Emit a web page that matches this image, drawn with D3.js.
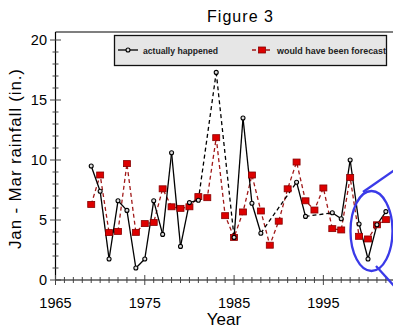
<!DOCTYPE html>
<html><head><meta charset="utf-8">
<script src="https://cdn.jsdelivr.net/npm/d3@7"></script>
<style>html,body{margin:0;padding:0;background:#fff;}svg{display:block;}</style>
</head><body>
<script>
const years = d3.range(1969, 2003);
const actual = [9.5, 7.4, 1.75, 6.6, 5.8, 1.0, 1.75, 6.6, 3.8, 10.6, 2.8, 6.45, 6.65, null, 17.3, null, 3.55, 13.5, 6.4, 3.9, null, null, null, 8.15, 5.3, null, null, 5.6, 5.1, 10.0, 4.67, 1.75, 4.6, 5.7];
const forecast = [6.3, 8.75, 3.95, 4.05, 9.7, 3.97, 4.7, 4.8, 7.6, 6.1, 5.97, 6.1, 6.95, 6.86, 11.86, 5.36, 3.55, 5.67, 8.75, 5.75, 2.9, 4.9, 7.6, 9.83, 6.6, 5.83, 7.67, 4.28, 4.17, 8.55, 3.64, 3.42, 4.6, 5.03];
const xTickLabels = [1965, 1975, 1985, 1995];
const yTickLabels = [0, 5, 10, 15, 20];
const legendLabels = ["actually happened", "would have been forecast"];

const W = 393, H = 331;
const svg = d3.select("body").append("svg").attr("width", W).attr("height", H);
const font = "Liberation Sans, Arial, sans-serif";

const x = d3.scaleLinear().domain([1965, 2003]).range([55.5, 394.8]);
const y = d3.scaleLinear().domain([0, 20]).range([280, 40]);
const frameTop = 32;

// title
svg.append("text").attr("x", 240).attr("y", 22).attr("text-anchor", "middle")
  .attr("font-family", font).attr("font-size", 16).attr("textLength", 66).attr("lengthAdjust", "spacing")
  .text("Figure 3");

// frame top
svg.append("line").attr("x1", x(1965)).attr("x2", W).attr("y1", frameTop).attr("y2", frameTop).attr("stroke", "#000").attr("stroke-width", 1.2);

// axes lines
svg.append("line").attr("x1", x(1965)).attr("x2", x(1965)).attr("y1", frameTop).attr("y2", y(0)).attr("stroke", "#000").attr("stroke-width", 1.2);
svg.append("line").attr("x1", x(1965)).attr("x2", W).attr("y1", y(0)).attr("y2", y(0)).attr("stroke", "#000").attr("stroke-width", 1.2);

// y ticks
const gy = svg.append("g");
d3.range(0, 21).forEach(v => {
  const major = v % 5 === 0;
  const len = major ? 5.5 : 3;
  gy.append("line").attr("x1", x(1965) - len).attr("x2", x(1965) + len).attr("y1", y(v)).attr("y2", y(v))
    .attr("stroke", "#444").attr("stroke-width", 1);
});
yTickLabels.forEach(v => {
  gy.append("text").attr("x", 47).attr("y", y(v) + 5).attr("text-anchor", "end")
    .attr("font-family", font).attr("font-size", 14.5).text(v);
});

// x ticks
const gx = svg.append("g");
d3.range(1965, 2003).forEach(v => {
  const major = (v - 1965) % 10 === 0;
  const len = major ? 5 : 3;
  gx.append("line").attr("x1", x(v)).attr("x2", x(v)).attr("y1", y(0) - len).attr("y2", y(0) + len)
    .attr("stroke", "#444").attr("stroke-width", 1);
});
xTickLabels.forEach(v => {
  gx.append("text").attr("x", x(v)).attr("y", 308).attr("text-anchor", "middle")
    .attr("font-family", font).attr("font-size", 14.5).text(v);
});

// axis titles
svg.append("text").attr("x", 224).attr("y", 325).attr("text-anchor", "middle")
  .attr("font-family", font).attr("font-size", 17).text("Year");
svg.append("text").attr("transform", "translate(21,159) rotate(-90)").attr("text-anchor", "middle")
  .attr("font-family", font).attr("font-size", 17).attr("textLength", 180).attr("lengthAdjust", "spacing")
  .text("Jan - Mar rainfall (in.)");

// forecast series
const fData = years.map((yr, i) => ({yr, v: forecast[i]}));
const line = d3.line().x(d => x(d.yr)).y(d => y(d.v));
svg.append("path").datum(fData).attr("d", line).attr("fill", "none")
  .attr("stroke", "#a01818").attr("stroke-width", 1.3).attr("stroke-dasharray", "4,3");

// actual series: dashed across gaps, solid between consecutive years
const aData = years.map((yr, i) => ({yr, v: actual[i]})).filter(d => d.v !== null);
for (let i = 1; i < aData.length; i++) {
  const a = aData[i - 1], b = aData[i];
  const gap = b.yr - a.yr > 1;
  svg.append("line").attr("x1", x(a.yr)).attr("y1", y(a.v)).attr("x2", x(b.yr)).attr("y2", y(b.v))
    .attr("stroke", "#000").attr("stroke-width", 1.3).attr("stroke-dasharray", gap ? "4,3" : null);
}

svg.append("g").selectAll("rect").data(fData).join("rect")
  .attr("x", d => x(d.yr) - 3.5).attr("y", d => y(d.v) - 3).attr("width", 7).attr("height", 6)
  .attr("fill", "#dd0000").attr("stroke", "#880000").attr("stroke-width", 0.8);

svg.append("g").selectAll("circle").data(aData).join("circle")
  .attr("cx", d => x(d.yr)).attr("cy", d => y(d.v)).attr("r", 2)
  .attr("fill", "#ddd").attr("stroke", "#000").attr("stroke-width", 1.1);

// legend
const lg = svg.append("g");
lg.append("rect").attr("x", 114.5).attr("y", 35.5).attr("width", 272).attr("height", 30)
  .attr("fill", "#e6e6e6").attr("stroke", "#111").attr("stroke-width", 1.3);
lg.append("line").attr("x1", 118).attr("x2", 138).attr("y1", 50).attr("y2", 50).attr("stroke", "#000").attr("stroke-width", 1.3);
lg.append("circle").attr("cx", 128).attr("cy", 50).attr("r", 2).attr("fill", "#ddd").attr("stroke", "#000").attr("stroke-width", 1.1);
lg.append("text").attr("x", 143).attr("y", 53.5).attr("font-family", font).attr("font-size", 9.5).attr("font-weight", "bold")
  .attr("fill", "#222").attr("textLength", 75).attr("lengthAdjust", "spacingAndGlyphs").text(legendLabels[0]);
lg.append("line").attr("x1", 252).attr("x2", 271).attr("y1", 50).attr("y2", 50).attr("stroke", "#a01818").attr("stroke-width", 1.3).attr("stroke-dasharray", "4,3");
lg.append("rect").attr("x", 258.5).attr("y", 47).attr("width", 7).attr("height", 6).attr("fill", "#dd0000").attr("stroke", "#880000").attr("stroke-width", 0.8);
lg.append("text").attr("x", 277).attr("y", 53.5).attr("font-family", font).attr("font-size", 9.5).attr("font-weight", "bold")
  .attr("fill", "#222").attr("textLength", 109).attr("lengthAdjust", "spacingAndGlyphs").text(legendLabels[1]);

// blue callout annotation
const blue = "#3a3ae8";
svg.append("ellipse").attr("cx", 371.5).attr("cy", 231).attr("rx", 21).attr("ry", 40)
  .attr("fill", "none").attr("stroke", blue).attr("stroke-width", 2.3);
svg.append("line").attr("x1", 363).attr("y1", 192).attr("x2", 396).attr("y2", 169).attr("stroke", blue).attr("stroke-width", 2.3);
svg.append("line").attr("x1", 376).attr("y1", 266).attr("x2", 396).attr("y2", 288).attr("stroke", blue).attr("stroke-width", 2.3);
</script>
</body></html>
